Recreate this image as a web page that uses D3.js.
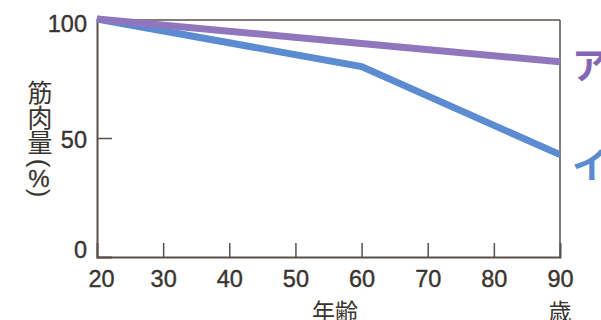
<!DOCTYPE html>
<html>
<head>
<meta charset="utf-8">
<script src="https://cdn.jsdelivr.net/npm/d3@7"></script>
<style>
  body { margin: 0; background: #fff; }
  text { font-family: "Liberation Sans", Arial, sans-serif; fill: #3a3431; }
  .jp { font-family: "Noto Sans CJK JP", sans-serif; }
</style>
</head>
<body>
<div id="chart"></div>
<script>
const ages = [20, 60, 90];
const seriesA = [100, 89.7, 82];
const seriesI = [100, 80, 43];
const xTicks = [20, 30, 40, 50, 60, 70, 80, 90];
const yTicks = [0, 50, 100];

const width = 601, height = 320;
const plotLeft = 97, plotRight = 560, plotTop = 19, plotBottom = 257;

const svg = d3.select("#chart").append("svg")
  .attr("width", width)
  .attr("height", height);

const x = d3.scaleLinear().domain([20, 90]).range([plotLeft, plotRight]);
const y = d3.scaleLinear().domain([0, 100]).range([plotBottom, plotTop]);

const axisColor = "#58504c";
const textColor = "#3a3431";

// frame: top and right border
svg.append("line")
  .attr("x1", plotLeft).attr("x2", plotRight).attr("y1", plotTop + 1).attr("y2", plotTop + 1)
  .attr("stroke", axisColor).attr("stroke-width", 1.3);
svg.append("line")
  .attr("x1", plotRight).attr("x2", plotRight).attr("y1", plotTop + 1).attr("y2", plotBottom)
  .attr("stroke", axisColor).attr("stroke-width", 1.5);

// x axis, ticks pointing inward
const xAxis = d3.axisBottom(x).tickValues(xTicks).tickSize(-14).tickPadding(28);
const gx = svg.append("g")
  .attr("transform", `translate(0, ${plotBottom})`)
  .call(xAxis);
gx.select(".domain").attr("stroke", axisColor).attr("stroke-width", 2);
gx.selectAll(".tick line").attr("stroke", axisColor).attr("stroke-width", 1.5)
  .filter(d => d === 20 || d === 90).remove();
gx.selectAll(".tick text")
  .attr("font-size", 23.5).attr("dy", "0.1em")
  .attr("x", d => d === 20 ? 4 : 0)
  .attr("font-family", "Liberation Sans, Arial, sans-serif")
  .attr("fill", textColor).attr("stroke", textColor).attr("stroke-width", 0.4);

// y axis
const yAxis = d3.axisLeft(y).tickValues(yTicks).tickSize(-15).tickPadding(10);
const gy = svg.append("g")
  .attr("transform", `translate(${plotLeft}, 0)`)
  .call(yAxis);
gy.select(".domain").attr("stroke", axisColor).attr("stroke-width", 2);
gy.selectAll(".tick line").attr("stroke", axisColor).attr("stroke-width", 1.5)
  .filter(d => d !== 50).remove();
gy.selectAll(".tick text")
  .attr("font-size", 23.5).attr("dy", "0.35em")
  .attr("y", d => d === 0 ? -8 : d === 100 ? 4 : 1)
  .attr("font-family", "Liberation Sans, Arial, sans-serif")
  .attr("fill", textColor).attr("stroke", textColor).attr("stroke-width", 0.4);

// series lines
const line = d3.line().x((d, i) => x(ages[i])).y(d => y(d));

svg.append("path")
  .datum(seriesI)
  .attr("d", line)
  .attr("fill", "none")
  .attr("stroke", "#5b8bd0")
  .attr("stroke-width", 7);

svg.append("path")
  .datum(seriesA)
  .attr("d", line)
  .attr("fill", "none")
  .attr("stroke", "#9077bd")
  .attr("stroke-width", 7);

// series labels (cut by the right edge, as in the print)
svg.append("text").attr("class", "jp")
  .attr("x", 572).attr("y", y(seriesA[2]) + 17)
  .attr("font-size", 36).attr("font-weight", "bold")
  .style("fill", "#8466b4")
  .text("ア");
svg.append("text").attr("class", "jp")
  .attr("x", 572).attr("y", y(seriesI[2]) + 24)
  .attr("font-size", 36).attr("font-weight", "bold")
  .style("fill", "#5b8bd0")
  .text("イ");

// axis titles
svg.append("text").attr("class", "jp")
  .attr("x", 335).attr("y", 320)
  .attr("text-anchor", "middle")
  .attr("font-size", 23)
  .text("年齢");
svg.append("text").attr("class", "jp")
  .attr("x", 560).attr("y", 320)
  .attr("text-anchor", "middle")
  .attr("font-size", 23)
  .text("歳");

// vertical y title: 筋肉量（％）
svg.append("text").attr("class", "jp")
  .attr("x", 40).attr("y", 80)
  .attr("font-size", 25)
  .style("writing-mode", "vertical-rl")
  .text("筋肉量");
svg.append("text")
  .attr("x", 40).attr("y", 163)
  .attr("text-anchor", "middle").attr("dominant-baseline", "central")
  .attr("font-size", 26)
  .attr("transform", "rotate(90, 40, 163)")
  .text("(");
svg.append("text")
  .attr("x", 39).attr("y", 178)
  .attr("text-anchor", "middle").attr("dominant-baseline", "central")
  .attr("font-size", 24)
  .attr("stroke", textColor).attr("stroke-width", 0.3)
  .text("%");
svg.append("text")
  .attr("x", 40).attr("y", 193)
  .attr("text-anchor", "middle").attr("dominant-baseline", "central")
  .attr("font-size", 26)
  .attr("transform", "rotate(90, 40, 193)")
  .text(")");
</script>
</body>
</html>
